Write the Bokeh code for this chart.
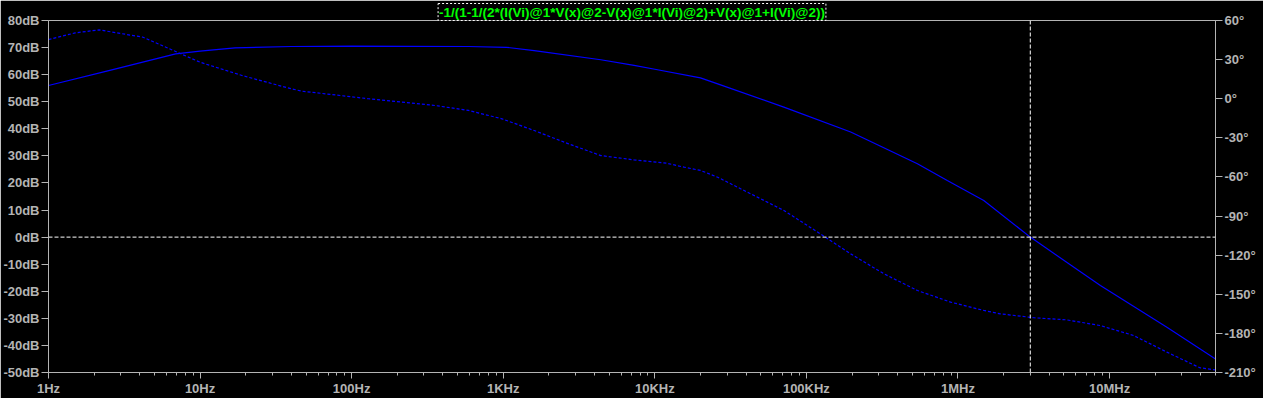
from bokeh.plotting import figure
from bokeh.models import Range1d, LinearAxis, FixedTicker, PrintfTickFormatter, Span
from bokeh.embed import file_html
from bokeh.resources import INLINE

# ---- data ----
title_text = "-1/(1-1/(2*(I(Vi)@1*V(x)@2-V(x)@1*I(Vi)@2)+V(x)@1+I(Vi)@2))"

mag_freq = [1, 2.5, 6.9, 10, 17, 40, 100, 590, 1050, 1600, 4400, 7300, 10000,
            20000, 26000, 71000, 196000, 540000, 850000, 1.48e6, 3.0e6, 8.7e6, 23.9e6, 50e6]
mag_db = [56.0, 61.5, 67.7, 68.7, 69.9, 70.4, 70.5, 70.4, 70.1, 68.9, 65.5, 63.4, 62.0,
          58.8, 56.6, 48.0, 38.8, 27.1, 20.9, 13.5, 0.0, -17.9, -33.3, -45.0]

ph_freq = [1, 1.5, 2.16, 4.2, 6.9, 10, 18.9, 40, 47, 129, 355, 590, 980, 1600, 2700, 4400,
           7300, 12000, 15600, 20000, 26000, 43000, 71000, 119000, 196000, 326000, 540000,
           894000, 1.48e6, 1.9e6, 3.17e6, 5.2e6, 8.7e6, 14.4e6, 23.9e6, 39.5e6, 50e6]
ph_deg = [45.4, 50.5, 52.8, 47.2, 36.2, 28.0, 17.8, 7.6, 5.8, 0.0, -5.2, -9.0, -15.4, -24.4,
          -34.6, -43.6, -46.9, -49.5, -52.5, -55.0, -60.2, -73.0, -85.7, -102.4, -119.0,
          -134.4, -147.1, -156.0, -162.4, -165.0, -168.0, -169.6, -174.0, -181.6, -194.4,
          -206.4, -208.0]

db_ticks = [80, 70, 60, 50, 40, 30, 20, 10, 0, -10, -20, -30, -40, -50]
deg_ticks = [60, 30, 0, -30, -60, -90, -120, -150, -180, -210]
freq_ticks = [1, 10, 100, 1000, 10000, 100000, 1000000, 10000000]
freq_labels = ["1Hz", "10Hz", "100Hz", "1KHz", "10KHz", "100KHz", "1MHz", "10MHz"]
freq_minor = [m * d for d in freq_ticks for m in range(2, 10) if m * d <= 5e7]

cursor_freq = 3.0e6
cursor_db = 0

# ---- styling ----
axis_col = "#b4b4b4"
curve_col = "#0000ff"
font = "Liberation Sans"

p = figure(width=1263, height=398, x_axis_type="log",
           x_range=Range1d(1, 5e7), y_range=Range1d(-50, 80),
           output_backend="svg", toolbar_location=None,
           background_fill_color="black", border_fill_color="black",
           outline_line_color=axis_col,
           min_border_left=46, min_border_right=48, min_border_top=20, min_border_bottom=26)
p.grid.visible = False
p.extra_y_ranges = {"phase": Range1d(-210, 60)}

p.title.text = title_text
p.title.align = "center"
p.title.text_color = "#00ff00"
p.title.text_font = font
p.title.text_font_size = "13.5px"
p.title.text_font_style = "bold"
p.title.standoff = 0
p.title.offset = 0
p.title.padding = 1
p.title.background_fill_color = "black"
p.title.border_line_color = "white"
p.title.border_line_dash = "2 2"

left = p.yaxis[0]
left.ticker = FixedTicker(ticks=db_ticks)
left.formatter = PrintfTickFormatter(format="%ddB")

right = LinearAxis(y_range_name="phase", ticker=FixedTicker(ticks=deg_ticks),
                   formatter=PrintfTickFormatter(format="%d°"))
p.add_layout(right, "right")

for ax in (left, right):
    ax.minor_tick_line_color = None
    ax.major_tick_in = 0
    ax.major_tick_out = 7
    ax.major_label_standoff = 2

xa = p.xaxis[0]
xa.ticker = FixedTicker(ticks=freq_ticks, minor_ticks=freq_minor)
xa.major_label_overrides = {t: l for t, l in zip(freq_ticks, freq_labels)}
xa.major_tick_in = 0
xa.major_tick_out = 6
xa.minor_tick_in = 0
xa.minor_tick_out = 3
xa.major_label_standoff = 2

for ax in (left, right, xa):
    ax.axis_line_color = axis_col
    ax.major_tick_line_color = axis_col
    ax.major_label_text_color = axis_col
    ax.major_label_text_font = font
    ax.major_label_text_font_size = "13px"
    ax.major_label_text_font_style = "bold"
xa.minor_tick_line_color = axis_col

p.line(mag_freq, mag_db, line_color=curve_col, line_width=1.2)
p.line(ph_freq, ph_deg, y_range_name="phase", line_color=curve_col,
       line_width=1.2, line_dash="3 2")

p.add_layout(Span(location=cursor_db, dimension="width", line_color="white",
                  line_dash="4 2", line_width=1))
p.add_layout(Span(location=cursor_freq, dimension="height", line_color="white",
                  line_dash="4 2", line_width=1))

open("out.html", "w").write(file_html(p, INLINE))
